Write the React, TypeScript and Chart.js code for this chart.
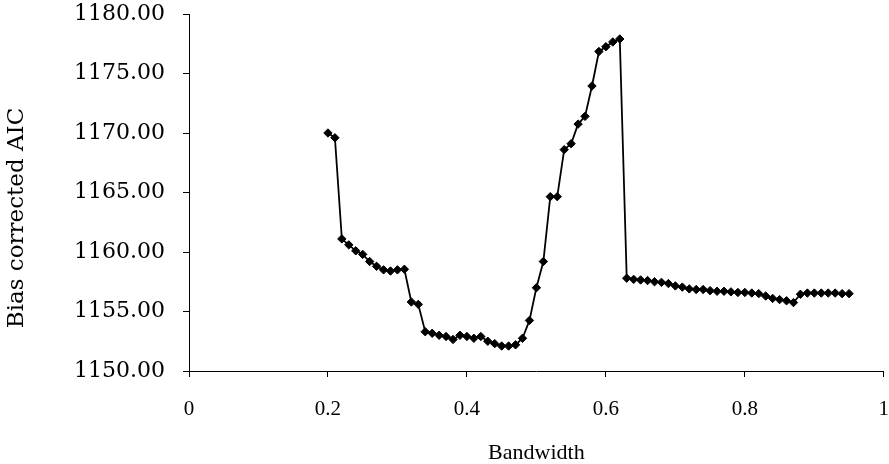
import React, { useEffect, useRef } from 'react';
import { Chart, registerables } from 'chart.js';

Chart.register(...registerables);

const bandwidth: number[] = [
  0.20, 0.21, 0.22, 0.23, 0.24, 0.25, 0.26, 0.27, 0.28, 0.29,
  0.30, 0.31, 0.32, 0.33, 0.34, 0.35, 0.36, 0.37, 0.38, 0.39,
  0.40, 0.41, 0.42, 0.43, 0.44, 0.45, 0.46, 0.47, 0.48, 0.49,
  0.50, 0.51, 0.52, 0.53, 0.54, 0.55, 0.56, 0.57, 0.58, 0.59,
  0.60, 0.61, 0.62, 0.63, 0.64, 0.65, 0.66, 0.67, 0.68, 0.69,
  0.70, 0.71, 0.72, 0.73, 0.74, 0.75, 0.76, 0.77, 0.78, 0.79,
  0.80, 0.81, 0.82, 0.83, 0.84, 0.85, 0.86, 0.87, 0.88, 0.89,
  0.90, 0.91, 0.92, 0.93, 0.94, 0.95,
];

const aicc: number[] = [
  1170.0, 1169.6, 1161.1, 1160.6, 1160.1, 1159.8, 1159.2, 1158.8, 1158.5, 1158.4,
  1158.5, 1158.55, 1155.8, 1155.6, 1153.3, 1153.17, 1153.0, 1152.9, 1152.65, 1153.0,
  1152.9, 1152.75, 1152.9, 1152.5, 1152.3, 1152.1, 1152.1, 1152.2, 1152.75, 1154.25,
  1157.0, 1159.2, 1164.65, 1164.65, 1168.6, 1169.1, 1170.75, 1171.4, 1173.95, 1176.85,
  1177.25, 1177.65, 1177.9, 1157.8, 1157.7, 1157.65, 1157.6, 1157.5, 1157.45, 1157.35,
  1157.15, 1157.05, 1156.9, 1156.85, 1156.85, 1156.75, 1156.7, 1156.7, 1156.65, 1156.6,
  1156.6, 1156.55, 1156.5, 1156.3, 1156.1, 1156.0, 1155.9, 1155.75, 1156.45, 1156.55,
  1156.55, 1156.55, 1156.55, 1156.55, 1156.5, 1156.5,
];

const xTitle = 'Bandwidth';
const yTitle = 'Bias corrected AIC';
const xMin = 0;
const xMax = 1;
const xStep = 0.2;
const yMin = 1150;
const yMax = 1180;
const yStep = 5;

const yTitlePlugin = {
  id: 'yTitleCustom',
  afterDraw(chart: any) {
    const { ctx, chartArea } = chart;
    ctx.save();
    ctx.translate(chartArea.left - 172, chartArea.bottom - 153);
    ctx.rotate(-Math.PI / 2);
    ctx.font = '23px "DejaVu Serif"';
    ctx.fillStyle = '#000';
    ctx.textAlign = 'center';
    ctx.textBaseline = 'middle';
    ctx.fillText(yTitle, 0, 0);
    ctx.restore();
  },
};

export default function App() {
  const canvasRef = useRef<HTMLCanvasElement | null>(null);

  useEffect(() => {
    document.body.style.margin = '0';
    const canvas = canvasRef.current;
    if (!canvas) return;
    const points = bandwidth.map((x, i) => ({ x, y: aicc[i] }));
    const chart = new Chart(canvas, {
      type: 'scatter',
      data: {
        datasets: [
          {
            data: points,
            showLine: true,
            borderColor: '#000',
            backgroundColor: '#000',
            borderWidth: 1.8,
            pointStyle: 'rectRot',
            pointRadius: 4.2,
            pointBorderWidth: 1,
            pointBackgroundColor: '#000',
            pointBorderColor: '#000',
            tension: 0,
          },
        ],
      },
      options: {
        animation: false,
        responsive: false,
        events: [],
        layout: { padding: { top: 14, right: 4, left: 0, bottom: 0 } },
        plugins: {
          legend: { display: false },
          tooltip: { enabled: false },
        },
        scales: {
          x: {
            type: 'linear',
            min: xMin,
            max: xMax,
            afterFit: (s: any) => {
              s.height = 93;
              s.paddingLeft = 0;
              s.paddingRight = 0;
            },
            border: { display: true, color: '#000', width: 1 },
            grid: {
              display: true,
              drawOnChartArea: false,
              drawTicks: true,
              tickLength: 6,
              color: '#000',
            },
            ticks: {
              stepSize: xStep,
              color: '#000',
              padding: 20,
              maxRotation: 0,
              font: { family: '"Liberation Serif"', size: 21 },
              callback: (v: any) => String(Math.round(Number(v) * 10) / 10),
            },
            title: {
              display: true,
              text: xTitle,
              color: '#000',
              font: { family: '"Liberation Serif"', size: 22, lineHeight: 1 },
              padding: { top: 0, bottom: 0 },
            },
          },
          y: {
            type: 'linear',
            min: yMin,
            max: yMax,
            afterFit: (s: any) => {
              s.width = 189;
              s.paddingTop = 0;
              s.paddingBottom = 0;
            },
            border: { display: true, color: '#000', width: 1 },
            grid: {
              display: true,
              drawOnChartArea: false,
              drawTicks: true,
              tickLength: 6,
              color: '#000',
            },
            ticks: {
              stepSize: yStep,
              color: '#000',
              padding: 18,
              font: { family: '"DejaVu Serif"', size: 22 },
              callback: (v: any) => Number(v).toFixed(2),
            },
          },
        },
      },
      plugins: [yTitlePlugin],
    });
    return () => chart.destroy();
  }, []);

  return (
    <div style={{ width: 889, height: 464, background: '#fff' }}>
      <canvas ref={canvasRef} width={889} height={464} style={{ display: 'block' }} />
    </div>
  );
}
